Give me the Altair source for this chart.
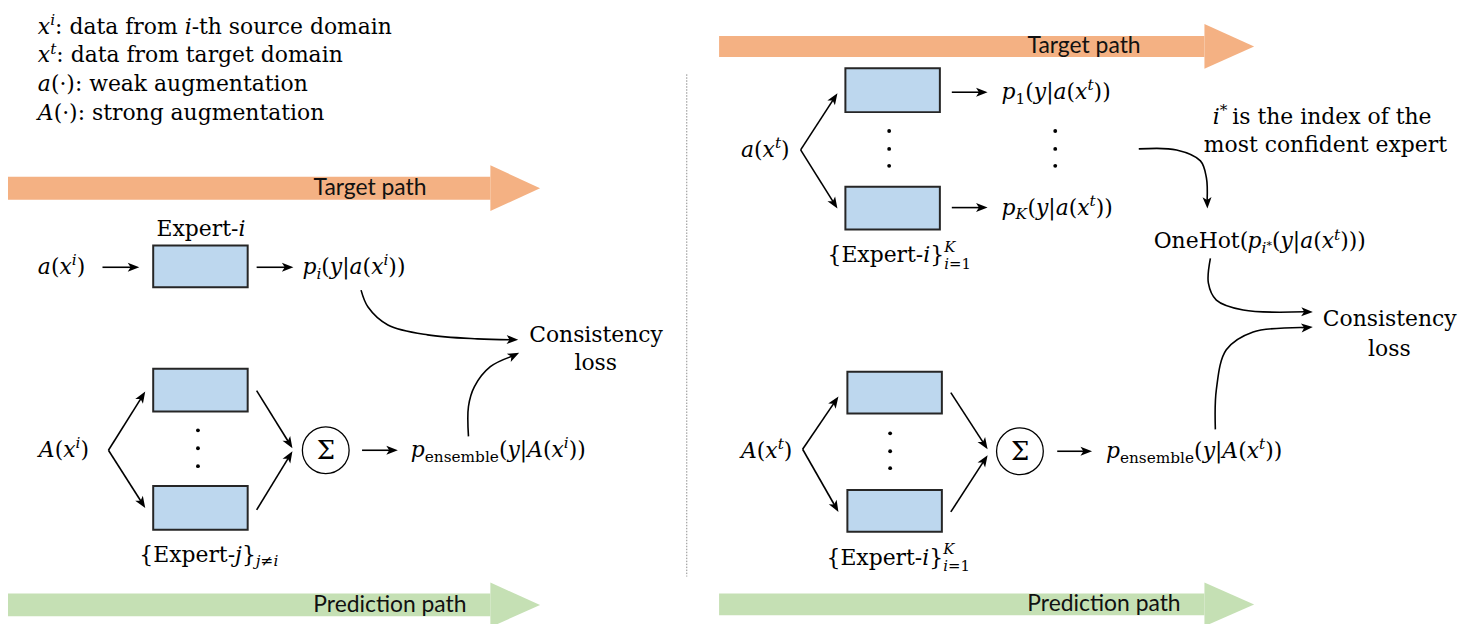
import math
import altair as alt
import pandas as pd

# ===== colours / fonts =====
TARGET_FILL = "#f4b183"
PRED_FILL = "#c5e0b4"
BOX_FILL = "#bdd7ee"
SERIF = "DejaVu Serif"
SANS = "Lato"
BASE = 22
NB = "\u00a0"  # leading blanks are collapsed in svg text

# ===== big "path" arrows =====
PATH_LABELS = ["Target path", "Prediction path", "Target path", "Prediction path"]
PATH_TAIL_X = [5, 5, 723, 723]
PATH_HEAD_X = [493, 493, 1211, 1211]
PATH_TIP_X = [543, 543, 1261, 1261]
PATH_MID_Y = [187.5, 606.5, 45, 606]
PATH_BODY_H = [23, 23, 21, 22]
PATH_HEAD_H = [46, 45, 45, 44]
PATH_FILL = [TARGET_FILL, PRED_FILL, TARGET_FILL, PRED_FILL]
PATH_LABEL_X = [372, 392, 1090, 1110]

# ===== expert boxes =====
BOX_X0 = [154, 154, 154, 850, 850, 852, 852]
BOX_X1 = [249, 249, 249, 945, 945, 947, 947]
BOX_Y0 = [245, 369, 487, 67, 186, 372, 491]
BOX_Y1 = [287, 412, 531, 111, 229, 414, 533]

# ===== straight arrows (tail -> tip) =====
ARROW_X0 = [103, 258, 109, 109, 258, 258, 364, 805, 805, 957, 957, 807, 807, 956, 956, 1063]
ARROW_Y0 = [267, 267, 451, 451, 391, 511, 451, 149, 149, 91, 207, 450, 450, 393, 513, 452]
ARROW_X1 = [140, 295, 146, 146, 294, 294, 400, 842, 842, 993, 993, 843, 843, 993, 993, 1098]
ARROW_Y1 = [267, 267, 392, 509, 449, 452, 451, 92, 208, 91, 207, 397, 513, 450, 456, 452]

# ===== curved arrows (through points, arrow at last point) =====
CURVES = [
    [(363, 290), (370, 307), (390, 325), (430, 335), (480, 339), (521, 340)],
    [(471, 437), (471, 407), (477, 387), (493, 367), (522, 353)],
    [(1145, 148), (1183, 149), (1207, 160), (1213, 177), (1214, 208)],
    [(1217, 258), (1215, 283), (1223, 300), (1250, 310), (1320, 312)],
    [(1222, 430), (1223, 390), (1233, 350), (1260, 332), (1320, 327)],
]

# ===== vertical ellipsis dots =====
DOT_X = [199, 199, 199, 894, 894, 894, 1061, 1061, 1061, 895, 895, 895]
DOT_Y = [431, 449, 467, 130, 148, 165, 130, 148, 165, 434, 452, 469]

# ===== sum nodes =====
SUM_X = [327.5, 1025.5]
SUM_Y = [451, 452]
SUM_R = 23.5

# ===== separator =====
SEP_X = 690.5
SEP_Y = [73, 578]

# ===== text (segments: text, style r/i, position, stack flag) =====
LEGEND = [
    [("x", "i"), ("i", "i", "sup"), (": data from ", "r"), ("i", "i"), ("-th source domain", "r")],
    [("x", "i"), ("t", "i", "sup"), (": data from target domain", "r")],
    [("a", "i"), ("(·): weak augmentation", "r")],
    [("A", "i"), ("(·): strong augmentation", "r")],
]
LEGEND_X = 38
LEGEND_Y = [32, 61, 90, 119]

FORMULAS = [
    ([("a", "i"), ("(", "r"), ("x", "i"), ("i", "i", "sup"), (")", "r")], 38, 274, "left"),
    ([("Expert-", "r"), ("i", "i")], 202, 236, "center"),
    ([("p", "i"), ("i", "i", "sub"), ("(", "r"), ("y", "i"), ("|", "r"), ("a", "i"), ("(", "r"),
      ("x", "i"), ("i", "i", "sup"), ("))", "r")], 304, 274, "left"),
    ([("Consistency", "r")], 599, 342, "center"),
    ([("loss", "r")], 599, 370, "center"),
    ([("A", "i"), ("(", "r"), ("x", "i"), ("i", "i", "sup"), (")", "r")], 39, 458, "left"),
    ([("p", "i"), ("ensemble", "r", "sub"), ("(", "r"), ("y", "i"), ("|", "r"), ("A", "i"), ("(", "r"),
      ("x", "i"), ("i", "i", "sup"), ("))", "r")], 413, 458, "left"),
    ([("{Expert-", "r"), ("j", "i"), ("}", "r"), ("j", "i", "sub"), ("≠", "r", "sub"), ("i", "i", "sub")],
     140, 563, "left"),
    ([("a", "i"), ("(", "r"), ("x", "i"), ("t", "i", "sup"), (")", "r")], 745, 156, "left"),
    ([("p", "i"), ("1", "r", "sub"), ("(", "r"), ("y", "i"), ("|", "r"), ("a", "i"), ("(", "r"),
      ("x", "i"), ("t", "i", "sup"), ("))", "r")], 1007, 98, "left"),
    ([("p", "i"), ("K", "i", "sub"), ("(", "r"), ("y", "i"), ("|", "r"), ("a", "i"), ("(", "r"),
      ("x", "i"), ("t", "i", "sup"), ("))", "r")], 1007, 214, "left"),
    ([("{Expert-", "r"), ("i", "i"), ("}", "r"), ("K", "i", "hisup", "stack"), ("i", "i", "losub"),
      ("=1", "r", "losub")], 832, 262, "left"),
    ([("i", "i"), ("*" + NB, "r", "sup"), (NB + "is the index of the", "r")], 1333, 123, "center"),
    ([("most confident expert", "r")], 1333, 151, "center"),
    ([("OneHot(", "r"), ("p", "i"), ("i", "i", "sub"), ("*", "r", "subsup"), ("(", "r"), ("y", "i"),
      ("|", "r"), ("a", "i"), ("(", "r"), ("x", "i"), ("t", "i", "sup"), (")))", "r")], 1160, 248, "left"),
    ([("Consistency", "r")], 1397, 326, "center"),
    ([("loss", "r")], 1397, 356, "center"),
    ([("A", "i"), ("(", "r"), ("x", "i"), ("t", "i", "sup"), (")", "r")], 745, 459, "left"),
    ([("p", "i"), ("ensemble", "r", "sub"), ("(", "r"), ("y", "i"), ("|", "r"), ("A", "i"), ("(", "r"),
      ("x", "i"), ("t", "i", "sup"), ("))", "r")], 1112, 459, "left"),
    ([("{Expert-", "r"), ("i", "i"), ("}", "r"), ("K", "i", "hisup", "stack"), ("i", "i", "losub"),
      ("=1", "r", "losub")], 831, 566, "left"),
]

# ===== DejaVu Serif advance widths (per em) =====
W_ROMAN = {" ": .318, NB: .318, "(": .390, ")": .390, "*": .500, "-": .338, "1": .636, ":": .337,
           "=": .838, "|": .337, "{": .636, "}": .636, "·": .318, "≠": .838, "Σ": .700,
           "A": .722, "C": .733, "E": .730, "H": .872, "K": .773, "O": .787,
           "a": .596, "b": .640, "c": .560, "d": .640, "e": .592, "f": .370, "g": .640, "h": .644,
           "i": .320, "j": .310, "k": .601, "l": .320, "m": .948, "n": .644, "o": .602, "p": .640,
           "r": .478, "s": .513, "t": .402, "u": .644, "w": .856, "x": .564, "y": .565}
W_ITALIC = {"a": .596, "i": .320, "j": .310, "p": .640, "t": .402, "x": .564, "y": .565,
            "A": .722, "K": .773}
POS_SCALE = {"": 1.0, "sub": 0.7, "sup": 0.7, "subsup": 0.5, "hisup": 0.68, "losub": 0.68}
POS_SHIFT = {"": 0.0, "sub": 0.22, "sup": -0.40, "subsup": 0.02, "hisup": -0.48, "losub": 0.3}


def seg_width(txt, sty, fs):
    table = W_ITALIC if sty == "i" else W_ROMAN
    return sum(table.get(ch, W_ROMAN.get(ch, .6)) for ch in txt) * fs


def layout(segments, x, y, anchor, size=BASE):
    pieces, cx = [], 0.0
    for seg in segments:
        txt, sty = seg[0], seg[1]
        pos = seg[2] if len(seg) > 2 else ""
        fs = size * POS_SCALE[pos]
        pieces.append((cx, y + POS_SHIFT[pos] * size, txt, sty, fs))
        if len(seg) < 4:
            cx += seg_width(txt, sty, fs)
    x0 = x - cx / 2 if anchor == "center" else x
    return [{"x": x0 + px, "y": py, "t": t, "sty": s, "fs": fs} for px, py, t, s, fs in pieces]


text_rows = []
for segs, yy in zip(LEGEND, LEGEND_Y):
    text_rows += layout(segs, LEGEND_X, yy, "left", 22)
for segs, xx, yy, anc in FORMULAS:
    text_rows += layout(segs, xx, yy, anc)
for cx, cy in zip(SUM_X, SUM_Y):
    text_rows += layout([("Σ", "r")], cx, cy + 9, "center", 26)
text_df = pd.DataFrame(text_rows)

# ===== scales =====
XS = alt.Scale(domain=[8, 1470], nice=False, zero=False)
YS = alt.Scale(domain=[8, 624], nice=False, zero=False, reverse=True)


def X(f="x"):
    return alt.X(f"{f}:Q", scale=XS, axis=None)


def Y(f="y"):
    return alt.Y(f"{f}:Q", scale=YS, axis=None)


# ===== path arrows =====
body_df = pd.DataFrame({
    "x": PATH_TAIL_X, "x2": PATH_HEAD_X,
    "y": [m - h / 2 for m, h in zip(PATH_MID_Y, PATH_BODY_H)],
    "y2": [m + h / 2 for m, h in zip(PATH_MID_Y, PATH_BODY_H)],
    "fill": PATH_FILL,
})
head_rows = []
for i in range(len(PATH_LABELS)):
    m, h = PATH_MID_Y[i], PATH_HEAD_H[i]
    head_rows.append({"id": i, "x": PATH_HEAD_X[i], "y": m - h / 2, "y2": m + h / 2, "fill": PATH_FILL[i]})
    head_rows.append({"id": i, "x": PATH_TIP_X[i], "y": m, "y2": m, "fill": PATH_FILL[i]})
head_df = pd.DataFrame(head_rows)
label_df = pd.DataFrame({"x": PATH_LABEL_X, "y": PATH_MID_Y, "t": PATH_LABELS})

bodies = alt.Chart(body_df).mark_rect().encode(
    x=X(), x2="x2:Q", y=Y(), y2="y2:Q", fill=alt.Fill("fill:N", scale=None))
heads = alt.Chart(head_df).mark_area(opacity=1).encode(
    x=X(), y=Y(), y2="y2:Q", detail="id:N", fill=alt.Fill("fill:N", scale=None))
path_labels = alt.Chart(label_df).mark_text(
    font=SANS, fontSize=23, align="center", baseline="middle", color="#111111"
).encode(x=X(), y=Y(), text="t:N")

# ===== separator =====
sep = alt.Chart(pd.DataFrame({"x": [SEP_X], "y": [SEP_Y[0]], "y2": [SEP_Y[1]]})).mark_rule(
    color="#8c8c8c", strokeWidth=1, strokeDash=[1.5, 1.5]
).encode(x=X(), y=Y(), y2="y2:Q")

# ===== boxes, sum circles, dots =====
boxes = alt.Chart(pd.DataFrame({"x": BOX_X0, "x2": BOX_X1, "y": BOX_Y0, "y2": BOX_Y1})).mark_rect(
    fill=BOX_FILL, stroke="#262626", strokeWidth=2
).encode(x=X(), x2="x2:Q", y=Y(), y2="y2:Q")
sums = alt.Chart(pd.DataFrame({"x": SUM_X, "y": SUM_Y})).mark_point(
    shape="circle", filled=False, color="black", strokeWidth=1.3, opacity=1, size=(2 * SUM_R) ** 2
).encode(x=X(), y=Y())
dots = alt.Chart(pd.DataFrame({"x": DOT_X, "y": DOT_Y})).mark_circle(
    size=15, color="black", opacity=1
).encode(x=X(), y=Y())

# ===== arrows =====
HEAD_SIZE = 135
HEAD_HALF = math.sqrt(HEAD_SIZE) / 2
HEAD_SHAPE = "M0,-1L0.78,1L0,0.5L-0.78,1Z"


def head_at(tx, ty, dx, dy):
    n = math.hypot(dx, dy)
    ux, uy = dx / n, dy / n
    ang = math.degrees(math.atan2(ux, -uy)) % 360
    return {"x": tx - ux * HEAD_HALF, "y": ty - uy * HEAD_HALF, "angle": ang}, (tx - ux * 8, ty - uy * 8)


shaft_rows, tip_rows = [], []
for x0, y0, x1, y1 in zip(ARROW_X0, ARROW_Y0, ARROW_X1, ARROW_Y1):
    h, end = head_at(x1, y1, x1 - x0, y1 - y0)
    tip_rows.append(h)
    shaft_rows.append({"x": x0, "y": y0, "x2": end[0], "y2": end[1]})

curve_rows = []
for cid, pts in enumerate(CURVES):
    (ax, ay), (bx, by) = pts[-2], pts[-1]
    h, end = head_at(bx, by, bx - ax, by - ay)
    tip_rows.append(h)
    for k, (px, py) in enumerate(pts[:-1] + [end]):
        curve_rows.append({"cid": cid, "k": k, "x": px, "y": py})

shafts = alt.Chart(pd.DataFrame(shaft_rows)).mark_rule(color="black", strokeWidth=1.6).encode(
    x=X(), y=Y(), x2="x2:Q", y2="y2:Q")
curves = alt.Chart(pd.DataFrame(curve_rows)).mark_line(
    interpolate="catmull-rom", color="black", strokeWidth=1.6
).encode(x=X(), y=Y(), detail="cid:N", order="k:Q")
tips = alt.Chart(pd.DataFrame(tip_rows)).mark_point(
    shape=HEAD_SHAPE, filled=True, color="black", opacity=1, size=HEAD_SIZE, strokeWidth=0
).encode(x=X(), y=Y(), angle=alt.Angle("angle:Q", scale=None))

# ===== math text =====
roman = alt.Chart(text_df[text_df.sty == "r"]).mark_text(
    font=SERIF, align="left", baseline="alphabetic", color="black"
).encode(x=X(), y=Y(), text="t:N", size=alt.Size("fs:Q", scale=None))
italic = alt.Chart(text_df[text_df.sty == "i"]).mark_text(
    font=SERIF, fontStyle="italic", align="left", baseline="alphabetic", color="black"
).encode(x=X(), y=Y(), text="t:N", size=alt.Size("fs:Q", scale=None))

chart = alt.layer(
    bodies, heads, path_labels, sep, boxes, sums, dots, shafts, curves, tips, roman, italic
).properties(
    width=1462, height=616, padding=0, autosize="none", background="white"
).configure_view(stroke=None)

chart.save("out.html", embed_options={"renderer": "svg", "actions": False})
